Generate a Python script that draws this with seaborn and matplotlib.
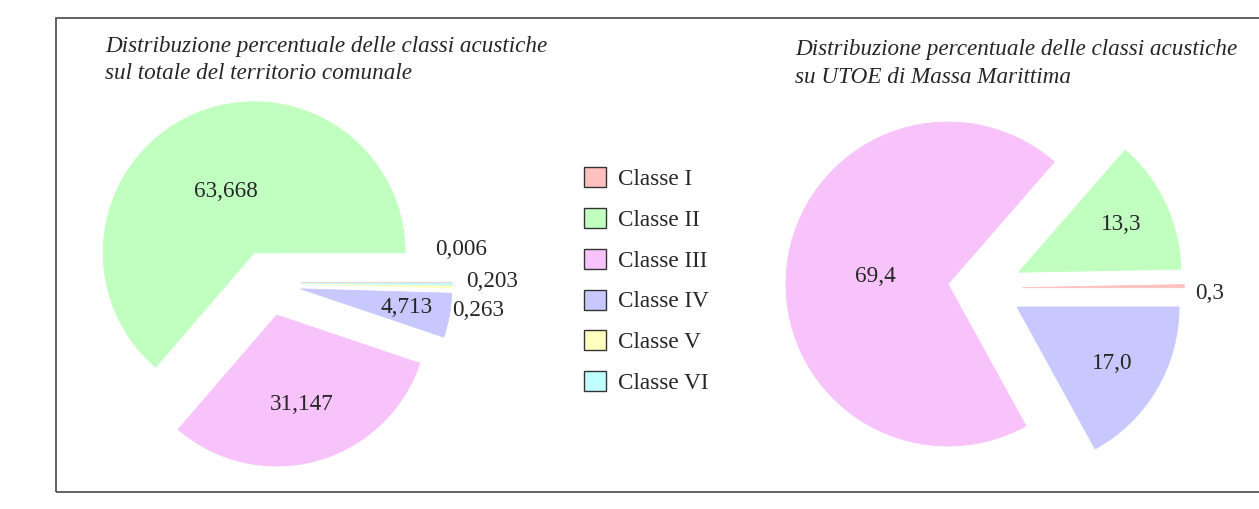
import numpy as np
import matplotlib
matplotlib.use("Agg")
import matplotlib.pyplot as plt
import seaborn as sns
from matplotlib.patches import Rectangle, Patch

# stile
sns.set_theme(style="white")
plt.rcParams["font.family"] = ["Liberation Serif", "DejaVu Serif"]

# dati
classi = ["Classe I", "Classe II", "Classe III", "Classe IV", "Classe V", "Classe VI"]
comune = [0.006, 63.668, 31.147, 4.713, 0.263, 0.203]
utoe = [0.3, 13.3, 69.4, 17.0]
titolo_comune = "Distribuzione percentuale delle classi acustiche\nsul totale del territorio comunale"
titolo_utoe = "Distribuzione percentuale delle classi acustiche\nsu UTOE di Massa Marittima"

colori = sns.color_palette(["#ffc0c0", "#c0ffc0", "#f8c3fa", "#c8c8ff", "#ffffc0", "#c0ffff"])

FS = 16.7
W, H = 1259, 509
fig = plt.figure(figsize=(W / 100, H / 100), dpi=100)


def px_axes(cx, cy, r, lim=1.5):
    # asse quadrato centrato in (cx, cy) pixel, 1 unita' = r pixel
    size = 2 * lim * r
    ax = fig.add_axes([(cx - size / 2) / W, (H - cy - size / 2) / H, size / W, size / H])
    return ax


def label_dist(frac):
    # distanza dell'etichetta circa nel baricentro del settore
    a = np.pi * frac
    return max(2 * np.sin(a) / (3 * a) + 0.05, 0.45)


def torta(ax, valori, fmt, esplodi, offsets, lim=1.5):
    wedges, _ = ax.pie(valori, colors=colori[:len(valori)], startangle=0,
                       explode=[esplodi] * len(valori), counterclock=True)
    ax.set_xlim(-lim, lim)
    ax.set_ylim(-lim, lim)
    ax.set_aspect("equal")
    ax.axis("off")
    for w in wedges:
        w.set_edgecolor(w.get_facecolor())
        w.set_linewidth(0.6)
    small = 0
    for w, v in zip(wedges, valori):
        ang = np.deg2rad((w.theta1 + w.theta2) / 2)
        cx, cy = w.center
        txt = fmt.format(v).replace(".", ",")
        if v >= 1:
            d = label_dist(v / 100) * w.r
            ax.text(cx + d * np.cos(ang), cy + d * np.sin(ang), txt,
                    ha="center", va="center", fontsize=FS)
        else:
            # etichette esterne per le fette piccolissime
            dx, dy = offsets[small]
            small += 1
            ax.annotate(txt, (cx + w.r * np.cos(ang), cy + w.r * np.sin(ang)),
                        xytext=(dx, dy), textcoords="offset points",
                        ha="left", va="center", fontsize=FS)
    return wedges


ax1 = px_axes(268, 283, 151)
# offset per Classe I, V, VI
torta(ax1, comune, "{:.3f}", 0.22, [(-12, 24), (0, -17), (10, 2)])

ax2 = px_axes(985, 288, 162)
torta(ax2, utoe, "{:.1f}", 0.23, [(8, -5)])

# titoli
fig.text(105 / W, 1 - 36 / H, titolo_comune, ha="left", va="top",
         fontsize=FS, style="italic", linespacing=1.36)
fig.text(795 / W, 1 - 39 / H, titolo_utoe, ha="left", va="top",
         fontsize=FS, style="italic", linespacing=1.42)

# legenda
handles = [Patch(facecolor=c, edgecolor="#333333", linewidth=1.0) for c in colori]
fig.legend(handles, classi, loc="upper left", bbox_to_anchor=(584 / W, 1 - 167 / H),
           frameon=False, fontsize=FS, handlelength=0.95, handleheight=0.95,
           handletextpad=0.5, labelspacing=0.77, borderaxespad=0, borderpad=0)

# cornice
fig.patches.append(Rectangle((56 / W, 1 - 492 / H), 1.2, (492 - 18) / H,
                             transform=fig.transFigure, fill=False,
                             edgecolor="#555555", linewidth=1.3))

fig.savefig("out.png", dpi=100)
